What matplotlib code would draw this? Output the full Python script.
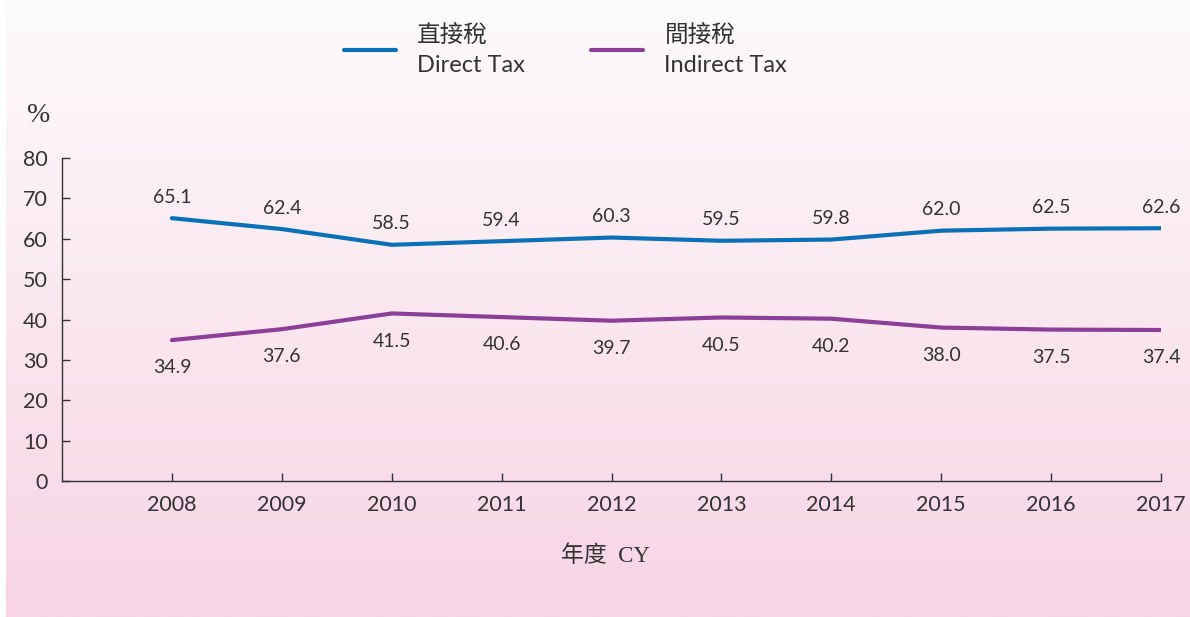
import numpy as np
import matplotlib
matplotlib.use("Agg")
import matplotlib.pyplot as plt

years = [2008, 2009, 2010, 2011, 2012, 2013, 2014, 2015, 2016, 2017]
direct_tax = [65.1, 62.4, 58.5, 59.4, 60.3, 59.5, 59.8, 62.0, 62.5, 62.6]
indirect_tax = [34.9, 37.6, 41.5, 40.6, 39.7, 40.5, 40.2, 38.0, 37.5, 37.4]
direct_label = "直接稅\nDirect Tax"
indirect_label = "間接稅\nIndirect Tax"
y_ticks = [0, 10, 20, 30, 40, 50, 60, 70, 80]

BLUE = "#0a70b8"
PURPLE = "#8b3f98"
DARK = "#333333"
SANS = ["Lato", "Noto Sans CJK TC", "DejaVu Sans"]
SERIF = ["Liberation Serif", "Noto Sans CJK TC", "DejaVu Serif"]

W, H = 1190, 617
fig = plt.figure(figsize=(W / 100, H / 100), dpi=100)
fig.patch.set_facecolor("white")

# gradient background panel
bg = fig.add_axes([6 / W, 0, 1 - 6 / W, 1], zorder=-10)
top = np.array([253, 251, 252]) / 255
bot = np.array([248, 212, 228]) / 255
t = np.linspace(0, 1, 256)[:, None]
grad = (top[None, :] * (1 - t) + bot[None, :] * t)[:, None, :]
bg.imshow(grad, aspect="auto", extent=[0, 1, 0, 1], origin="upper")
bg.set_axis_off()

ax = fig.add_axes([62 / W, (H - 481) / H, (1161 - 62) / W, (481 - 158) / H])
ax.set_facecolor("none")
ax.plot(years, direct_tax, color=BLUE, lw=3.0, solid_capstyle="round",
        solid_joinstyle="round", label=direct_label)
ax.plot(years, indirect_tax, color=PURPLE, lw=3.0, solid_capstyle="round",
        solid_joinstyle="round", label=indirect_label)

for x, v in zip(years, direct_tax):
    ax.annotate(f"{v:.1f}", (x, v), xytext=(0, 15), textcoords="offset points",
                ha="center", va="center", fontsize=14, color=DARK, family=SANS)
for x, v in zip(years, indirect_tax):
    ax.annotate(f"{v:.1f}", (x, v), xytext=(0, -20), textcoords="offset points",
                ha="center", va="center", fontsize=14, color=DARK, family=SANS)

ax.set_xlim(2007, 2017)
ax.set_ylim(0, 80)
ax.set_xticks(years)
ax.set_yticks(y_ticks)
ax.tick_params(axis="both", direction="in", colors=DARK, labelsize=15.5,
               width=1, length=6, pad=10)
for lab in ax.get_xticklabels() + ax.get_yticklabels():
    lab.set_family(SANS)
for s in ["top", "right"]:
    ax.spines[s].set_visible(False)
for s in ["left", "bottom"]:
    ax.spines[s].set_color(DARK)
    ax.spines[s].set_linewidth(1)

fig.text(39 / W, 1 - 116 / H, "%", ha="center", va="center", fontsize=20,
         family=SERIF, color=DARK)
fig.text(605 / W, 1 - 556 / H, "年度  CY", ha="center", va="center", fontsize=16.5,
         family=SERIF, color=DARK)

leg = fig.legend(loc="upper left", bbox_to_anchor=(344 / W, 1 - 24 / H), ncol=2,
                 frameon=False, prop={"family": SANS, "size": 17},
                 handlelength=2.2, handletextpad=0.9, columnspacing=2.8,
                 borderpad=0, borderaxespad=0, labelspacing=0)
for txt in leg.get_texts():
    txt.set_color(DARK)
    txt.set_linespacing(1.55)

fig.savefig("out.png", dpi=100)
